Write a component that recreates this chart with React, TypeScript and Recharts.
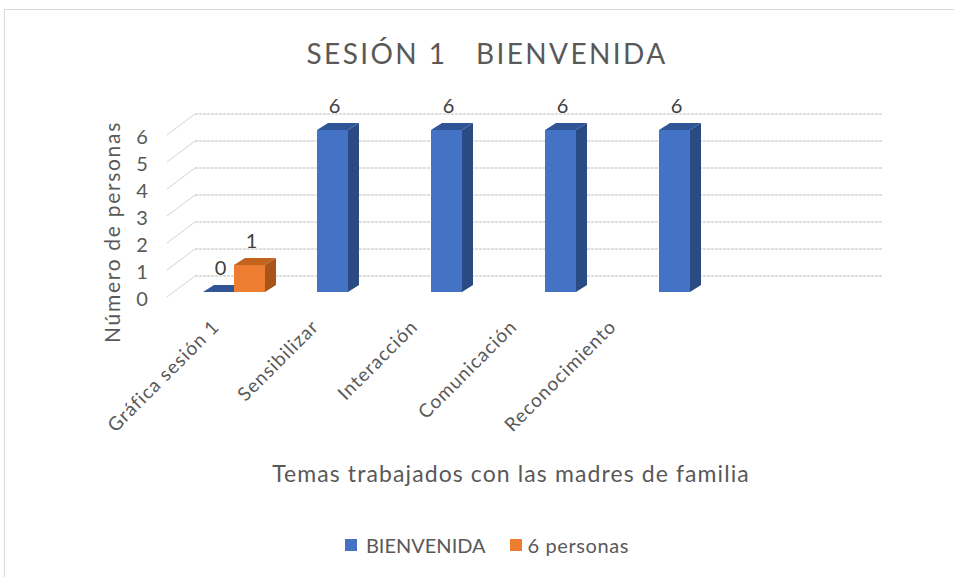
import { BarChart, Bar, XAxis, YAxis, CartesianGrid, Legend, LabelList } from 'recharts';

const categories = ['Gráfica sesión 1', 'Sensibilizar', 'Interacción', 'Comunicación', 'Reconocimiento', ''];
const bienvenida = [0, 6, 6, 6, 6, null];
const seisPersonas = [1, null, null, null, null, null];
const yTicks = [0, 1, 2, 3, 4, 5, 6];

const data = categories.map((name, i) => ({
  name,
  bienvenida: bienvenida[i],
  personas: seisPersonas[i],
}));

const FONT = 'Lato, "Open Sans", sans-serif';
const TEXT = '#595959';
const DX = 11;
const DY = 7;

// front face + top + side to fake the 3D look
const makeBox = (front: string, top: string, side: string) => (props: any) => {
  const { x, y, width, height } = props;
  if (x == null || width == null) return null;
  const h = Math.max(0, height || 0);
  return (
    <g>
      <polygon
        points={`${x + width},${y} ${x + width + DX},${y - DY} ${x + width + DX},${y + h - DY} ${x + width},${y + h}`}
        fill={side}
      />
      <polygon
        points={`${x},${y} ${x + DX},${y - DY} ${x + width + DX},${y - DY} ${x + width},${y}`}
        fill={top}
      />
      {h > 0 && <rect x={x} y={y} width={width} height={h} fill={front} />}
    </g>
  );
};

const valueLabel = (props: any) => {
  const { x, y, width, value } = props;
  if (value == null) return null;
  return (
    <text
      x={x + width / 2 + 2}
      y={y - 25}
      textAnchor="middle"
      dominantBaseline="central"
      fill="#404040"
      fontSize={20}
      fontFamily={FONT}
    >
      {value}
    </text>
  );
};

const gridLine = (props: any) => {
  const { x1, y1, x2 } = props;
  return (
    <g key={props.key}>
      <line x1={x1 - 10} y1={y1 + 5} x2={x1 + 18} y2={y1 - 16} stroke="#d3d3d3" strokeWidth={1} />
      <line x1={x1 + 18} y1={y1 - 16} x2={x2 + 22} y2={y1 - 16} stroke="#d3d3d3" strokeWidth={1.3} strokeDasharray="3 1" />
    </g>
  );
};

const xTick = (props: any) => {
  const { x, payload } = props;
  const px = x * 0.87 + 17;
  return (
    <text
      transform={`translate(${px},${328}) rotate(-45)`}
      textAnchor="end"
      fill={TEXT}
      fontSize={19}
      letterSpacing={1}
      fontFamily={FONT}
    >
      {payload.value}
    </text>
  );
};

const yTick = (props: any) => {
  const { y, payload } = props;
  return (
    <text x={142} y={y + 6} textAnchor="middle" dominantBaseline="central" fill={TEXT} fontSize={20} fontFamily={FONT}>
      {payload.value}
    </text>
  );
};

const legendContent = () => (
  <div style={{ display: 'flex', justifyContent: 'center', gap: 24, fontFamily: FONT, fontSize: 20, color: TEXT }}>
    <span style={{ display: 'flex', alignItems: 'center' }}>
      <span style={{ width: 12, height: 12, background: '#4472C4', marginRight: 9 }} />
      BIENVENIDA
    </span>
    <span style={{ display: 'flex', alignItems: 'center', letterSpacing: 0.6 }}>
      <span style={{ width: 12, height: 12, background: '#ED7D31', marginRight: 6 }} />
      6 personas
    </span>
  </div>
);

export default function App() {
  return (
    <div style={{ position: 'absolute', left: 0, top: 0, width: 954, height: 577, overflow: 'hidden', background: '#fff' }}>
      <div style={{ position: 'absolute', left: 4, top: 9, width: 1000, height: 700, border: '1px solid #d9d9d9' }} />
      <div
        style={{
          position: 'absolute',
          left: 0,
          top: 36,
          width: 974,
          textAlign: 'center',
          fontFamily: FONT,
          fontSize: 28,
          letterSpacing: 2.4,
          color: TEXT,
          whiteSpace: 'pre',
        }}
      >
        {'SESIÓN 1   BIENVENIDA'}
      </div>
      <div style={{ position: 'absolute', left: 0, top: 0 }}>
        <BarChart
          width={954}
          height={577}
          data={data}
          margin={{ top: 130, right: 93, bottom: 255, left: 117 }}
          barCategoryGap={26}
          barGap={0}
        >
          <CartesianGrid vertical={false} horizontal={gridLine} />
          <XAxis
            dataKey="name"
            axisLine={false}
            tickLine={false}
            height={30}
            interval={0}
            tick={xTick}
            label={{
              content: () => (
                <text x={511} y={482} textAnchor="middle" fill={TEXT} fontSize={23} letterSpacing={1.1} fontFamily={FONT}>
                  Temas trabajados con las madres de familia
                </text>
              ),
            }}
          />
          <YAxis
            domain={[0, 6]}
            ticks={yTicks}
            axisLine={false}
            tickLine={false}
            width={60}
            tick={yTick}
            label={{
              content: () => (
                <text
                  transform="translate(120,232) rotate(-90)"
                  textAnchor="middle"
                  fill={TEXT}
                  fontSize={21}
                  letterSpacing={1.7}
                  fontFamily={FONT}
                >
                  Número de personas
                </text>
              ),
            }}
          />
          <Legend
            layout="horizontal"
            verticalAlign="middle"
            align="center"
            wrapperStyle={{ top: 533, left: 0, width: 974 }}
            content={legendContent}
          />
          <Bar dataKey="bienvenida" name="BIENVENIDA" fill="#4472C4" isAnimationActive={false} shape={makeBox('#4472C4', '#2F5597', '#2A4A84')}>
            <LabelList dataKey="bienvenida" content={valueLabel} />
          </Bar>
          <Bar dataKey="personas" name="6 personas" fill="#ED7D31" isAnimationActive={false} shape={makeBox('#ED7D31', '#C4621F', '#A8541A')}>
            <LabelList dataKey="personas" content={valueLabel} />
          </Bar>
        </BarChart>
      </div>
    </div>
  );
}
